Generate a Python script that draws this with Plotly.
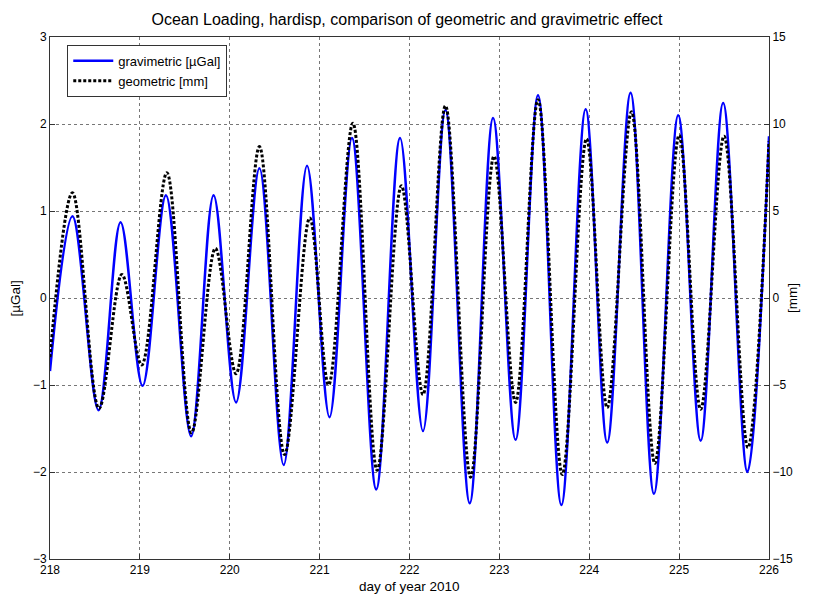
import plotly.graph_objects as go

# gravimetric [µGal] extrema (day of year, value)
grav_day = [218.0, 218.25, 218.54, 218.785, 219.03, 219.29, 219.57, 219.82, 220.07,
            220.33, 220.60, 220.86, 221.11, 221.36, 221.63, 221.895, 222.15, 222.40,
            222.67, 222.93, 223.18, 223.43, 223.69, 223.96, 224.20, 224.46, 224.72,
            224.99, 225.24, 225.49, 225.76, 226.0]
grav_val = [-0.84, 0.94, -1.29, 0.87, -1.01, 1.18, -1.59, 1.18, -1.20,
            1.49, -1.92, 1.52, -1.37, 1.84, -2.20, 1.84, -1.53, 2.16,
            -2.36, 2.07, -1.63, 2.33, -2.38, 2.17, -1.66, 2.36, -2.25,
            2.10, -1.64, 2.24, -2.00, 1.86]

# geometric [mm] extrema
geom_day = [218.0, 218.25, 218.545, 218.80, 219.02, 219.30, 219.575, 219.84, 220.07,
            220.33, 220.61, 220.89, 221.10, 221.37, 221.64, 221.91, 222.15, 222.40,
            222.68, 222.94, 223.18, 223.43, 223.70, 223.97, 224.20, 224.47, 224.73,
            225.00, 225.24, 225.50, 225.765, 226.0]
geom_val = [-3.4, 6.05, -6.35, 1.35, -3.85, 7.2, -7.75, 2.85, -4.35,
            8.7, -9.0, 4.6, -5.0, 10.05, -9.9, 6.45, -5.55, 11.05,
            -10.3, 8.15, -6.0, 11.4, -10.15, 9.15, -6.3, 10.7, -9.5,
            9.35, -6.4, 9.3, -8.6, 9.0]

x_ticks = [218, 219, 220, 221, 222, 223, 224, 225, 226]
yl_ticks = [-3, -2, -1, 0, 1, 2, 3]
yr_ticks = [-15, -10, -5, 0, 5, 10, 15]

FONT = "Liberation Sans, Arial, sans-serif"

fig = go.Figure()
fig.add_trace(go.Scatter(x=grav_day, y=grav_val, mode="lines", name="gravimetric [µGal]",
                         line=dict(color="#0000FF", width=2.5, shape="spline", smoothing=1.0),
                         yaxis="y"))
fig.add_trace(go.Scatter(x=geom_day, y=geom_val, mode="lines", name="geometric [mm]",
                         line=dict(color="#000000", width=3, dash="3px,2px", shape="spline", smoothing=1.0),
                         yaxis="y2"))

axis_common = dict(showline=True, linecolor="#333333", linewidth=1, ticks="inside",
                   ticklen=5, tickcolor="#333333", zeroline=False, automargin=False,
                   tickfont=dict(family=FONT, size=12, color="black"))

fig.update_layout(
    width=814, height=597,
    margin=dict(l=50, r=45, t=37, b=38),
    paper_bgcolor="white", plot_bgcolor="white",
    font=dict(family=FONT, size=13, color="black"),
    title=dict(text="Ocean Loading, hardisp, comparison of geometric and gravimetric effect",
               x=0.5, xanchor="center", y=0.968, yanchor="middle",
               font=dict(family=FONT, size=16, color="black")),
    xaxis=dict(range=[218, 226], tickvals=x_ticks, mirror=True,
               showgrid=True, gridcolor="#777777", griddash="dot", gridwidth=1,
               **axis_common),
    yaxis=dict(range=[-3, 3], tickvals=yl_ticks,
               showgrid=True, gridcolor="#777777", griddash="dot", gridwidth=1,
               **axis_common),
    yaxis2=dict(range=[-15, 15], tickvals=yr_ticks, overlaying="y", side="right",
                showgrid=False, **axis_common),
    legend=dict(x=0.024, y=0.985, xanchor="left", yanchor="top",
                bgcolor="white", bordercolor="#333333", borderwidth=1,
                font=dict(family=FONT, size=13), tracegroupgap=0, itemwidth=40),
    showlegend=True,
    annotations=[
        dict(text="day of year 2010", xref="paper", yref="paper", x=0.5, y=-0.052,
             xanchor="center", yanchor="middle", showarrow=False,
             font=dict(family=FONT, size=13.5)),
        dict(text="[µGal]", xref="paper", yref="paper", x=-0.048, y=0.5,
             xanchor="center", yanchor="middle", showarrow=False, textangle=-90,
             font=dict(family=FONT, size=13.5)),
        dict(text="[mm]", xref="paper", yref="paper", x=1.032, y=0.5,
             xanchor="center", yanchor="middle", showarrow=False, textangle=-90,
             font=dict(family=FONT, size=13.5)),
    ],
)

fig.write_html("out.html")
